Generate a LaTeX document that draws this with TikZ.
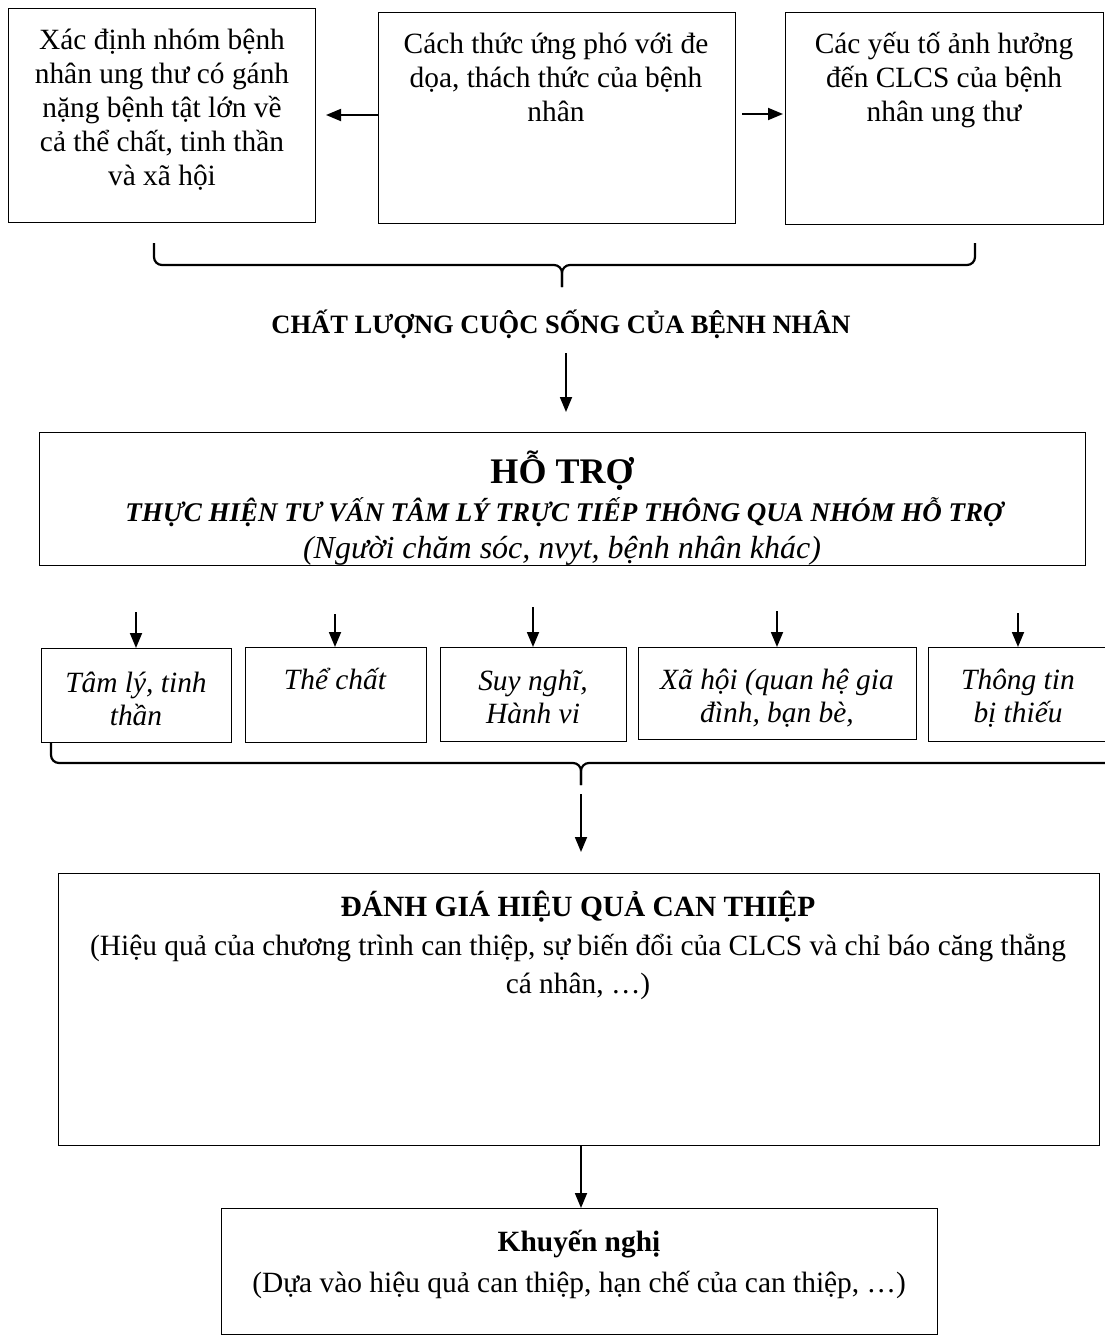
\documentclass[tikz,border=0pt]{standalone}
\usepackage{fontspec}
\setmainfont{Liberation Serif}
\usetikzlibrary{arrows.meta}
\newcommand\myfnt{\fontsize{29.4}{33.8}\selectfont}
\newcommand\smallfnt{\fontsize{27}{31}\selectfont}
\tikzset{
  frame/.style={draw, line width=1.3pt, inner sep=0pt, anchor=north west},
  txt/.style={anchor=base, align=center, inner sep=0pt, font=\myfnt},
  arr/.style={line width=1.8pt, -{Triangle[length=15pt,width=12pt]}},
  brace/.style={line width=2.2pt, rounded corners=8pt},
}
\begin{document}
\begin{tikzpicture}[x=1pt,y=-1pt]
\fill[white] (0,0) rectangle (1105,1336);
\clip (0,0) rectangle (1105,1336);
% top boxes
\node[frame, minimum width=307pt, minimum height=214pt] (b1) at (8,8) {};
\node[frame, minimum width=357pt, minimum height=211pt] (b2) at (378,12) {};
\node[frame, minimum width=318pt, minimum height=212pt] (b3) at (785,12) {};
\node[txt] (t1) at (162,185) {Xác định nhóm bệnh\\nhân ung thư có gánh\\nặng bệnh tật lớn về\\cả thể chất, tinh thần\\và xã hội};
\node[txt] (t2) at (556,121) {Cách thức ứng phó với đe\\dọa, thách thức của bệnh\\nhân};
\node[txt] (t3) at (944,121) {Các yếu tố ảnh hưởng\\đến CLCS của bệnh\\nhân ung thư};
\coordinate (aL) at (326,115);
\draw[arr] (b2.west |- aL) -- (aL);
\coordinate (aR) at (742,114);
\draw[arr, shorten >=2pt] (aR) -- (b3.west |- aR);
% brace 1
\draw[brace] (154,243) |- (562,265) -- (562,287);
\draw[brace] (975,243) |- (562,265) -- (562,287);
% title
\node[txt, font=\fontsize{26.5}{31}\selectfont\bfseries] (title) at (561,333) {CHẤT LƯỢNG CUỘC SỐNG CỦA BỆNH NHÂN};
\coordinate (c1) at (566,353);
\coordinate (c2) at (566,412);
\draw[arr] (c1) -- (c2);
% support box
\node[frame, minimum width=1046pt, minimum height=133pt] (hotro) at (39,432) {};
\node[txt, font=\fontsize{36}{40}\selectfont\bfseries] (h1) at (562,483) {HỖ TRỢ};
\node[txt, font=\smallfnt\bfseries\itshape] (h2) at (564,521) {THỰC HIỆN TƯ VẤN TÂM LÝ TRỰC TIẾP THÔNG QUA NHÓM HỖ TRỢ};
\node[txt, font=\fontsize{32}{36}\selectfont\itshape] (h3) at (562,558) {(Người chăm sóc, nvyt, bệnh nhân khác)};
% small boxes
\node[frame, minimum width=190pt, minimum height=94pt] (s1) at (41,648) {};
\node[frame, minimum width=181pt, minimum height=95pt] (s2) at (245,647) {};
\node[frame, minimum width=186pt, minimum height=94pt] (s3) at (440,647) {};
\node[frame, minimum width=278pt, minimum height=92pt] (s4) at (638,647) {};
\node[frame, minimum width=200pt, minimum height=94pt] (s5) at (928,647) {};
\node[txt, font=\fontsize{29.4}{33}\selectfont\itshape] (u1) at (136,725) {Tâm lý, tinh\\thần};
\node[txt, font=\fontsize{29.4}{33}\selectfont\itshape] (u2) at (335,689) {Thể chất};
\node[txt, font=\fontsize{29.4}{33}\selectfont\itshape] (u3) at (533,723) {Suy nghĩ,\\Hành vi};
\node[txt, font=\fontsize{29.4}{33}\selectfont\itshape] (u4) at (777,722) {Xã hội (quan hệ gia\\đình, bạn bè,};
\node[txt, font=\fontsize{29.4}{33}\selectfont\itshape] (u5) at (1018,722) {Thông tin\\bị thiếu};
\coordinate (p1) at (136,612);
\coordinate (p2) at (335,614);
\coordinate (p3) at (533,607);
\coordinate (p4) at (777,611);
\coordinate (p5) at (1018,613);
\draw[arr] (p1) -- (p1 |- s1.north);
\draw[arr] (p2) -- (p2 |- s2.north);
\draw[arr] (p3) -- (p3 |- s3.north);
\draw[arr] (p4) -- (p4 |- s4.north);
\draw[arr] (p5) -- (p5 |- s5.north);
% brace 2
\draw[brace] (51,742) |- (581,763) -- (581,785);
\draw[brace] (1130,763) -- (581,763) -- (581,785);
\coordinate (q1) at (581,794);
\coordinate (q2) at (581,852);
\draw[arr] (q1) -- (q2);
% evaluation box
\node[frame, minimum width=1041pt, minimum height=272pt] (danhgia) at (58,873) {};
\node[txt, font=\myfnt\bfseries] (d1) at (578,916) {ĐÁNH GIÁ HIỆU QUẢ CAN THIỆP};
\node[txt, font=\fontsize{29.4}{38}\selectfont] (d2) at (578,993) {(Hiệu quả của chương trình can thiệp, sự biến đổi của CLCS và chỉ báo căng thẳng\\cá nhân, …)};
% recommendation box
\node[frame, minimum width=716pt, minimum height=126pt] (khuyen) at (221,1208) {};
\node[txt, font=\myfnt\bfseries] (k1) at (579,1251) {Khuyến nghị};
\node[txt] (k2) at (579,1292) {(Dựa vào hiệu quả can thiệp, hạn chế của can thiệp, …)};
\coordinate (mx) at (581,0);
\draw[arr] (danhgia.south -| mx) -- (khuyen.north -| mx);
\end{tikzpicture}
\end{document}
